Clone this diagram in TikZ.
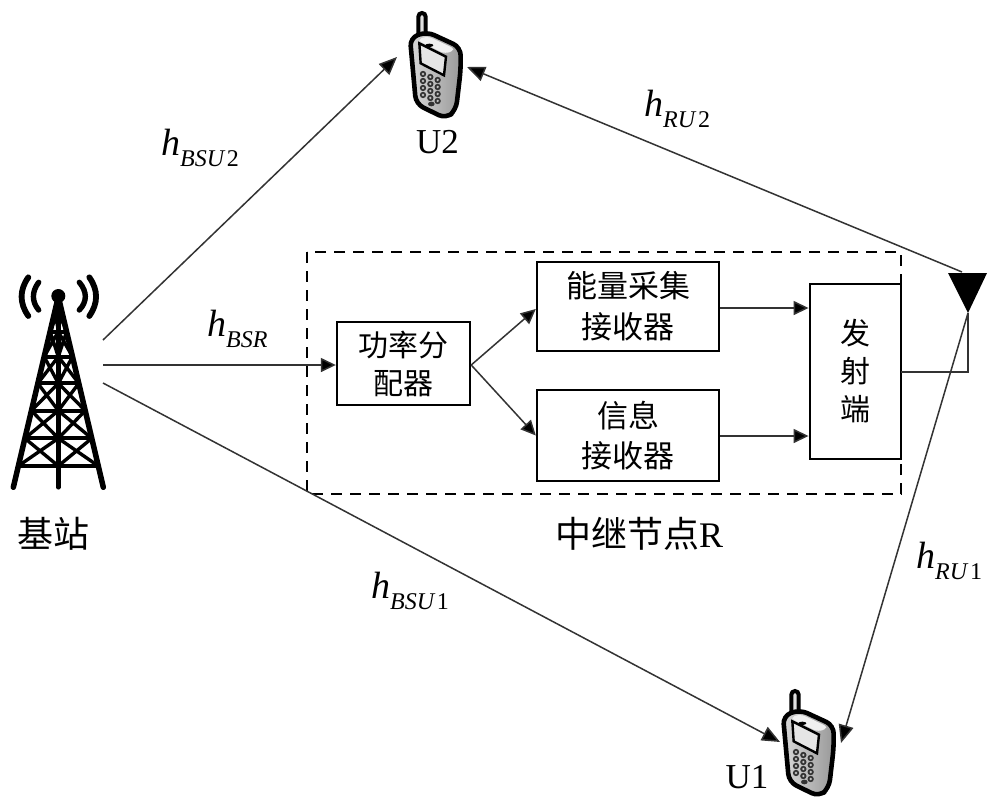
\documentclass[tikz,border=0pt]{standalone}
\usepackage{fontspec}
\setmainfont{Liberation Serif}
\newfontfamily\cjk{Noto Sans CJK SC}
\usetikzlibrary{arrows.meta,calc}
\definecolor{ln}{HTML}{333333}
\newcommand{\hsub}[2]{\fontsize{38}{38}\selectfont\textit{h}\raisebox{-11pt}{\fontsize{24}{24}\selectfont\textit{#1}\kern1.5pt #2}}
\tikzset{
  bx/.style={draw=black,line width=2.4pt,inner sep=0pt,align=center,font=\cjk\fontsize{30}{38}\selectfont},
  lnk/.style={draw=ln,line width=1.5pt},
  big/.style={lnk,-{Triangle[length=18pt,width=15pt,fill=black]}},
  small/.style={lnk,-{Triangle[length=15pt,width=14pt,fill=black]}},
  lab/.style={inner sep=0pt,anchor=base west},
  cn/.style={inner sep=0pt,font=\cjk\fontsize{#1}{#1}\selectfont},
  en/.style={inner sep=0pt,font=\fontsize{35}{35}\selectfont},
  pics/phone/.style={code={
    \begin{scope}[x=0.3333pt,y=-0.3333pt]
      \draw[line width=4pt,fill=gray!25] (85,104) -- (85,50) arc[start angle=180,end angle=360,radius=11] -- (107,104);
      \draw[line width=4.6pt,left color=gray!30,right color=gray!80,rounded corners=8pt,draw=black]
        (60,114) -- (110,95) -- (212,142) -- (212,210) -- (198,330) -- (168,356) -- (78,312) -- cycle;
      \fill[gray!12,rounded corners=5pt] (80,120) -- (112,108) -- (198,148) -- (166,162) -- cycle;
      \fill[black] (118,136) ellipse[x radius=12,y radius=5];
      \draw[line width=2.4pt,fill=gray!20] (88,130) -- (168,170) -- (162,226) -- (92,190) -- cycle;
      \foreach \r in {0,1,2,3}{\foreach \c in {0,1,2}{
        \fill[black!80] ({99+22*\c},{222+9*\c+21*\r}) circle[radius=9.5];
        \fill[gray!50] ({99+22*\c},{222+9*\c+21*\r}) circle[radius=4];}}
      \fill[black!80] (124,312) ellipse[x radius=10,y radius=7];
    \end{scope}}},
}
\begin{document}
\begin{tikzpicture}[x=1pt,y=-1pt]
\useasboundingbox (0,0) rectangle (1000,808);
\fill[white] (0,0) rectangle (1000,808);
% tower
\begin{scope}[x=0.3333pt,y=-0.3333pt,shift={(0pt,-260pt)},line cap=round]
  \draw[line width=5.5pt] (175,110) -- (40,682) (175,110) -- (310,682);
  \draw[line width=4.5pt] (175,110) -- (175,682);
  \foreach \y in {215,290,370,452,535,618}{
    \pgfmathsetmacro\dx{(\y-110)/572*135}
    \draw[line width=4pt] ({175-\dx},\y) -- ({175+\dx},\y);}
  \foreach \a/\b in {150/215,215/290,290/370,370/452,452/535,535/618}{
    \pgfmathsetmacro\da{(\a-110)/572*135}
    \pgfmathsetmacro\db{(\b-110)/572*135}
    \draw[line width=3.4pt] ({175-\da},\a) -- (175,\b) (175,\a) -- ({175-\db},\b)
      ({175+\da},\a) -- (175,\b) (175,\a) -- ({175+\db},\b);}
  \fill (175,108) circle[radius=21];
  \draw[line width=5.8pt] (85,52) .. controls (58,90) and (58,130) .. (85,168);
  \draw[line width=5.4pt] (116,67) .. controls (95,95) and (95,125) .. (116,150);
  \draw[line width=5.4pt] (238,67) .. controls (262,95) and (262,125) .. (238,150);
  \draw[line width=5.8pt] (268,52) .. controls (295,90) and (295,130) .. (268,168);
\end{scope}
% phones
\pic (pb) at (390,0) {phone};
\pic (pa) at (763,678) {phone};
% boxes
\draw[line width=2.5pt,dash pattern=on 11pt off 8pt] (307,252) rectangle (901,494);
\node[bx,minimum width=133pt,minimum height=83pt] (pw) at (403.5,363.5) {功率分\\配器};
\node[bx,minimum width=182pt,minimum height=89pt,font=\cjk\fontsize{31}{41}\selectfont] (eh) at (628,306.5) {能量采集\\接收器};
\node[bx,minimum width=182pt,minimum height=91pt,font=\cjk\fontsize{31}{40}\selectfont] (ir) at (628,435.5) {信息\\接收器};
\node[bx,fill=white,minimum width=91.5pt,minimum height=175pt,text width=40pt] (tx) at (855.5,371.5) {发\\射\\端};
% antenna
\fill[black] (948,273) -- (987,273) -- (968,313) -- cycle;
\coordinate (tip) at (968,313);
\coordinate (anttop) at (962,272);
\coordinate (bsa) at (103,340);
\coordinate (bsb) at (103,365);
\coordinate (bsc) at (103,383);
\coordinate (u2l) at (397,57);
\coordinate (u2r) at (467,67);
\coordinate (u1l) at (780,742);
\coordinate (u1r) at (841,743);
\coordinate (txout) at (901,372);
\coordinate (corner) at (968,372);
% connectors
\draw[big] (bsa) -- (u2l);
\draw[big] (bsc) -- (u1l);
\draw[big] (anttop) -- (u2r);
\draw[big] (tip) -- (u1r);
\draw[small] (bsb) -- (pw.west |- bsb);
\draw[small] (pw.east |- bsb) -- ($(eh.west)+(0,2.5)$);
\draw[small] (pw.east |- bsb) -- (ir.west);
\draw[small] (eh.east |- 0,308) -- (tx.west |- 0,308);
\draw[small] (ir.east |- 0,436) -- (tx.west |- 0,436);
\draw[lnk] (txout) -- (corner) -- (tip);
% labels
\node[cn=36] (bs) at (53,534) {基站};
\node[en] (u2) at (437.5,142) {U2};
\node[en] (u1) at (747,777) {U1};
\node[inner sep=0pt,anchor=base west,font=\cjk\fontsize{36}{36}\selectfont] (rl) at (555,547) {中继节点\rmfamily R};
\node[lab] (l1) at (161,155) {\hsub{BSU}{2}};
\node[lab] (l2) at (207,336) {\hsub{BSR}{}};
\node[lab] (l3) at (371,598) {\hsub{BSU}{1}};
\node[lab] (l4) at (644,116) {\hsub{RU}{2}};
\node[lab] (l5) at (916,568) {\hsub{RU}{1}};
\end{tikzpicture}
\end{document}
